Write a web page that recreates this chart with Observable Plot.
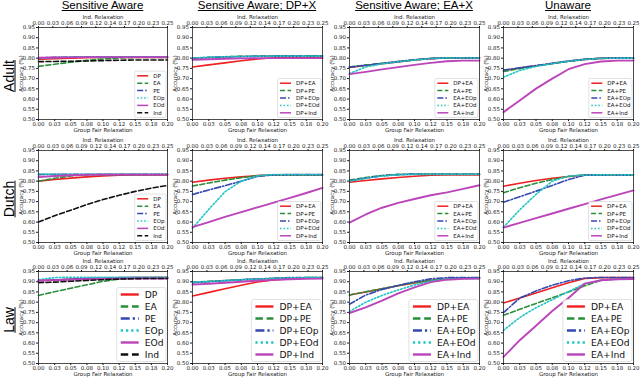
<!DOCTYPE html>
<html><head><meta charset="utf-8">
<script src="https://cdn.jsdelivr.net/npm/d3@7"></script>
<script src="https://cdn.jsdelivr.net/npm/@observablehq/plot@0.6"></script>
<style>
body{margin:0;background:#fff;}
#fig{position:relative;width:640px;height:378px;overflow:hidden;font-family:"Liberation Sans",Arial,sans-serif;color:#000;}
.ct{position:absolute;top:-1px;font-size:11.5px;line-height:13px;text-decoration:underline;white-space:nowrap;transform:translateX(-50%);}
.rl{position:absolute;font-size:14px;line-height:15px;text-decoration:underline;white-space:nowrap;transform:translate(-50%,-50%) rotate(-90deg);}
.panel{position:absolute;}
</style></head><body><div id="fig"></div>
<script>
// ---- shared axis data ----
const relax = [0, 0.025, 0.05, 0.075, 0.1, 0.125, 0.15, 0.175, 0.2];
const groupTickLabels = ["0.00","0.03","0.05","0.08","0.10","0.12","0.15","0.18","0.20"];
const indTickLabels = ["0.00","0.03","0.06","0.09","0.12","0.14","0.17","0.20","0.23","0.25"];
const yTicks = [0.50,0.55,0.60,0.65,0.70,0.75,0.80,0.85,0.90,0.95];
const columnTitles = ["Sensitive Aware","Sensitive Aware; DP+X","Sensitive Aware; EA+X","Unaware"];
const rowTitles = ["Adult","Dutch","Law"];

// ---- legend labels ----
const labelsSA = ["DP","EA","PE","EOp","EOd","Ind"];
const labelsDP = ["DP+EA","DP+PE","DP+EOp","DP+EOd","DP+Ind"];
const labelsEA = ["DP+EA","EA+PE","EA+EOp","EA+EOd","EA+Ind"];

// ---- Adult ----
const adultSA = [
 [0.795,0.798,0.800,0.802,0.803,0.804,0.804,0.804,0.804],
 [0.760,0.770,0.780,0.789,0.796,0.801,0.803,0.803,0.803],
 [0.801,0.804,0.806,0.807,0.807,0.807,0.807,0.807,0.807],
 [0.800,0.803,0.805,0.806,0.806,0.806,0.806,0.806,0.806],
 [0.802,0.803,0.804,0.805,0.805,0.805,0.805,0.805,0.805],
 [0.783,0.784,0.785,0.786,0.788,0.790,0.791,0.791,0.791]];
const adultDP = [
 [0.757,0.767,0.777,0.787,0.796,0.802,0.803,0.803,0.803],
 [0.800,0.804,0.807,0.809,0.810,0.811,0.811,0.811,0.811],
 [0.799,0.803,0.806,0.808,0.809,0.810,0.810,0.810,0.810],
 [0.801,0.804,0.807,0.808,0.809,0.810,0.810,0.810,0.810],
 [0.792,0.795,0.797,0.799,0.800,0.800,0.800,0.800,0.800]];
const adultEA = [
 [0.755,0.764,0.773,0.782,0.791,0.798,0.801,0.801,0.801],
 [0.757,0.766,0.775,0.784,0.792,0.799,0.802,0.802,0.802],
 [0.756,0.765,0.774,0.783,0.792,0.798,0.801,0.801,0.801],
 [0.725,0.757,0.772,0.782,0.791,0.798,0.801,0.801,0.801],
 [0.722,0.733,0.745,0.756,0.767,0.777,0.785,0.788,0.788]];
const adultUN = [
 [0.740,0.752,0.763,0.774,0.785,0.794,0.799,0.800,0.800],
 [0.735,0.749,0.761,0.773,0.784,0.793,0.799,0.800,0.800],
 [0.742,0.753,0.764,0.775,0.786,0.795,0.800,0.800,0.800],
 [0.707,0.740,0.760,0.773,0.785,0.794,0.799,0.800,0.800],
 [0.536,0.593,0.651,0.700,0.746,0.771,0.784,0.788,0.788]];

// ---- Dutch ----
const dutchSA = [
 [0.800,0.808,0.815,0.821,0.826,0.829,0.830,0.830,0.830],
 [0.800,0.814,0.826,0.831,0.832,0.832,0.832,0.832,0.832],
 [0.832,0.833,0.833,0.833,0.833,0.833,0.833,0.833,0.833],
 [0.835,0.834,0.834,0.834,0.834,0.834,0.834,0.834,0.834],
 [0.820,0.825,0.829,0.831,0.832,0.832,0.832,0.832,0.832],
 [0.600,0.631,0.658,0.686,0.710,0.731,0.750,0.766,0.779]];
const dutchDP = [
 [0.795,0.805,0.814,0.821,0.827,0.830,0.830,0.830,0.830],
 [0.776,0.791,0.805,0.817,0.827,0.831,0.831,0.831,0.831],
 [0.735,0.757,0.778,0.800,0.823,0.831,0.832,0.832,0.832],
 [0.570,0.662,0.748,0.800,0.826,0.832,0.832,0.832,0.832],
 [0.575,0.600,0.625,0.649,0.672,0.695,0.718,0.742,0.767]];
const dutchEA = [
 [0.795,0.803,0.811,0.818,0.824,0.829,0.831,0.831,0.831],
 [0.805,0.818,0.828,0.833,0.835,0.835,0.835,0.835,0.835],
 [0.801,0.815,0.826,0.832,0.834,0.834,0.834,0.834,0.834],
 [0.800,0.814,0.825,0.831,0.833,0.833,0.833,0.833,0.833],
 [0.597,0.637,0.670,0.694,0.713,0.731,0.745,0.762,0.780]];
const dutchUN = [
 [0.775,0.790,0.803,0.814,0.823,0.830,0.831,0.831,0.831],
 [0.743,0.768,0.790,0.808,0.823,0.830,0.831,0.831,0.831],
 [0.697,0.724,0.751,0.779,0.808,0.829,0.831,0.831,0.831],
 [0.575,0.660,0.735,0.800,0.825,0.830,0.831,0.831,0.831],
 [0.573,0.596,0.619,0.642,0.665,0.688,0.711,0.733,0.755]];

// ---- Law ----
const lawSA = [
 [0.905,0.908,0.912,0.915,0.917,0.919,0.920,0.920,0.920],
 [0.833,0.851,0.868,0.885,0.902,0.913,0.918,0.920,0.920],
 [0.905,0.909,0.913,0.916,0.918,0.920,0.921,0.921,0.921],
 [0.910,0.920,0.922,0.922,0.922,0.922,0.922,0.922,0.922],
 [0.906,0.908,0.910,0.912,0.914,0.915,0.916,0.916,0.916],
 [0.895,0.898,0.902,0.906,0.910,0.913,0.915,0.916,0.916]];
const lawDP = [
 [0.830,0.848,0.866,0.883,0.899,0.909,0.914,0.917,0.918],
 [0.897,0.902,0.906,0.910,0.913,0.916,0.918,0.920,0.920],
 [0.895,0.900,0.905,0.910,0.914,0.917,0.920,0.921,0.921],
 [0.897,0.901,0.905,0.909,0.913,0.916,0.919,0.920,0.920],
 [0.886,0.890,0.895,0.900,0.905,0.909,0.912,0.914,0.915]];
const lawEA = [
 [0.835,0.850,0.865,0.880,0.894,0.905,0.913,0.918,0.919],
 [0.835,0.851,0.866,0.881,0.896,0.907,0.915,0.919,0.920],
 [0.790,0.835,0.862,0.882,0.900,0.914,0.920,0.920,0.920],
 [0.755,0.800,0.833,0.860,0.884,0.903,0.913,0.915,0.915],
 [0.747,0.775,0.807,0.843,0.872,0.898,0.910,0.914,0.915]];
const lawUN = [
 [0.796,0.820,0.845,0.870,0.895,0.916,0.920,0.920,0.920],
 [0.736,0.765,0.794,0.821,0.850,0.880,0.907,0.914,0.915],
 [0.749,0.820,0.855,0.883,0.905,0.918,0.921,0.921,0.921],
 [0.662,0.725,0.773,0.812,0.852,0.890,0.907,0.912,0.913],
 [0.532,0.614,0.685,0.757,0.820,0.891,0.907,0.912,0.913]];

// ---- styles ----
const styles = [
 {stroke:"#ee2020", dash:null, w:1.6},
 {stroke:"#2a8f3a", dash:"5,2.5", w:1.6},
 {stroke:"#3548b0", dash:"6,2,1.5,2", w:1.6},
 {stroke:"#20c4c4", dash:"1.5,2", w:1.6},
 {stroke:"#bb44bb", dash:null, w:1.9},
 {stroke:"#111111", dash:"5,2.5", w:1.6}
];

const panels = [
 {r:0,c:0,s:adultSA,l:labelsSA},{r:0,c:1,s:adultDP,l:labelsDP},{r:0,c:2,s:adultEA,l:labelsEA},{r:0,c:3,s:adultUN,l:labelsEA},
 {r:1,c:0,s:dutchSA,l:labelsSA},{r:1,c:1,s:dutchDP,l:labelsDP},{r:1,c:2,s:dutchEA,l:labelsEA},{r:1,c:3,s:dutchUN,l:labelsDP},
 {r:2,c:0,s:lawSA,l:labelsSA},{r:2,c:1,s:lawDP,l:labelsDP},{r:2,c:2,s:lawEA,l:labelsEA},{r:2,c:3,s:lawUN,l:labelsEA}
];

const colX=[38,192,349,503], colW=[129,130,130,130];
const rowY=[27,150,271], rowH=[92,92,92];
const mL=26,mR=4,mT=17,mB=15;
const fig = document.getElementById("fig");
const indPos = indTickLabels.map((_, i) => i * 0.2 / (indTickLabels.length - 1));

columnTitles.forEach((t, c) => {
  const d = document.createElement("div");
  d.className = "ct"; d.textContent = t;
  d.style.left = (colX[c] + colW[c]/2) + "px";
  fig.appendChild(d);
});
rowTitles.forEach((t, r) => {
  const d = document.createElement("div");
  d.className = "rl"; d.textContent = t;
  d.style.left = "9px";
  d.style.top = (rowY[r] + rowH[r]/2 + 3) + "px";
  fig.appendChild(d);
});

for (const p of panels) {
  const pw = colW[p.c], ph = rowH[p.r];
  const lineMarks = p.s.map((vals, k) => Plot.line(relax.map((x, i) => ({x, y: vals[i]})), {
    x: "x", y: "y", stroke: styles[k].stroke, strokeWidth: styles[k].w,
    strokeDasharray: styles[k].dash || undefined
  }));
  const svg = Plot.plot({
    width: pw + mL + mR, height: ph + mT + mB,
    marginLeft: mL, marginRight: mR, marginTop: mT, marginBottom: mB,
    style: {fontFamily: "DejaVu Sans", fontSize: "5.5px", background: "transparent", overflow: "visible", color: "#1a1a1a"},
    x: {domain: [0, 0.2]}, y: {domain: [0.5, 0.95]},
    marks: [
      Plot.axisY({ticks: yTicks, tickFormat: d => d.toFixed(2), tickSize: 2, tickPadding: 1.5,
        label: "Accuracy (%)", labelAnchor: "center", labelArrow: "none", labelOffset: 19}),
      Plot.axisX({anchor: "bottom", ticks: relax, tickFormat: d => groupTickLabels[Math.round(d / 0.025)],
        tickSize: 2, tickPadding: 1, label: "Group Fair Relaxation", labelAnchor: "center", labelArrow: "none", labelOffset: 12}),
      Plot.axisX({anchor: "top", ticks: indPos, tickFormat: d => indTickLabels[Math.round(d / (0.2 / 9))],
        tickSize: 2, tickPadding: 1, label: "Ind. Relaxation", labelAnchor: "center", labelArrow: "none", labelOffset: 12}),
      ...lineMarks,
      Plot.frame({stroke: "#222", strokeWidth: 0.8})
    ]
  });
  svg.classList.add("panel");
  svg.style.left = (colX[p.c] - mL) + "px";
  svg.style.top = (rowY[p.r] - mT) + "px";
  fig.appendChild(svg);

  // legend
  const big = p.r === 2;
  const fs = big ? 9.2 : 5.5, sp = big ? 12 : 7.4, len = big ? 18 : 11, pad = big ? 4 : 2.5, gap = big ? 6 : 5;
  const g = d3.select(svg).append("g").attr("font-family", "DejaVu Sans").attr("font-size", fs).attr("text-anchor", "start");
  const box = g.append("rect");
  const texts = p.l.map((lab) => g.append("text").text(lab).attr("fill", "#111").attr("dy", "0.35em").attr("text-anchor", "start"));
  const tw = d3.max(texts, t => t.node().getComputedTextLength());
  const n = p.l.length;
  const bw = pad + len + gap + tw + pad * 0.6, bh = n * sp + 2;
  const bx = mL + pw - 1 - bw, by = mT + ph - 1.5 - bh;
  box.attr("x", bx).attr("y", by).attr("width", bw).attr("height", bh)
     .attr("rx", big ? 2.5 : 1.5).attr("fill", "white").attr("fill-opacity", 0.85)
     .attr("stroke", "#cccccc").attr("stroke-width", 0.6);
  p.l.forEach((lab, k) => {
    const y = by + 1 + sp * (k + 0.5);
    g.append("line").attr("x1", bx + pad).attr("x2", bx + pad + len).attr("y1", y).attr("y2", y)
      .attr("stroke", styles[k].stroke).attr("stroke-width", big ? 2.4 : 1.5)
      .attr("stroke-dasharray", styles[k].dash ? styles[k].dash.split(",").map(v => v * (big ? 1.5 : 1)).join(",") : null);
    texts[k].attr("x", bx + pad + len + gap).attr("y", y).raise();
  });
}
</script></body></html>
